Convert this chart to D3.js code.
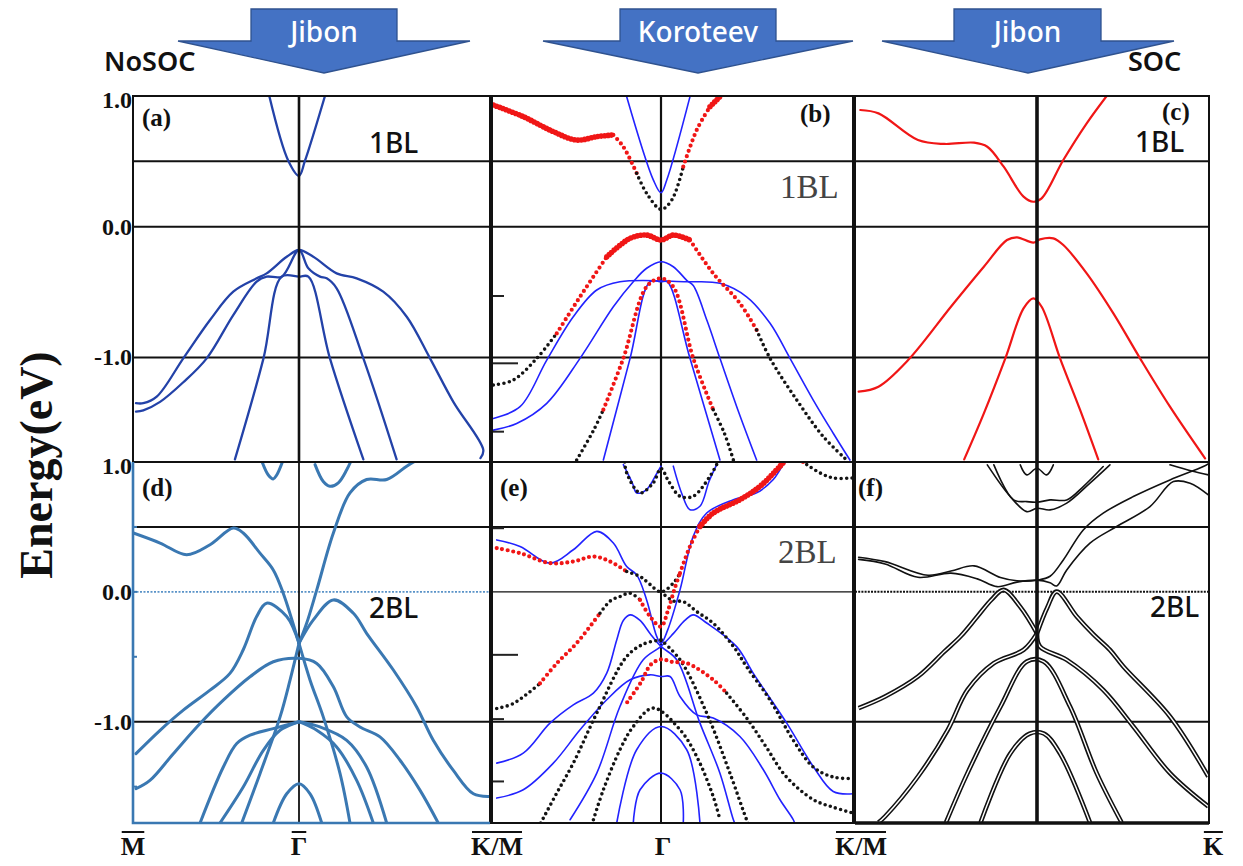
<!DOCTYPE html>
<html>
<head>
<meta charset="utf-8">
<script src="https://cdn.jsdelivr.net/npm/d3@7"></script>
<style>
  body { margin: 0; background: #fff; }
  svg { display: block; }
</style>
</head>
<body>
<svg id="chart" width="1243" height="866"></svg>
<script>
// ---------------------------------------------------------------
// Band structures along M - Gamma - K (k normalised: M = -1, Gamma = 0, K = +1)
// Energies in eV.  Dotted bands carry a third value: red character
// (0 = none / black, 1 = red, 2 = strong red).
// ---------------------------------------------------------------

const gridEnergies = [0.5, 0.0, -1.0];
const yTickValues = [1.0, 0.0, -1.0];
const yTickLabels = ["1.0", "0.0", "-1.0"];
const xTickLabels = ["M", "Γ", "K/M", "Γ", "K/M", "K"];
const xTickBarred = [true, true, true, false, true, true];
const panelLetters = ["(a)", "(b)", "(c)", "(d)", "(e)", "(f)"];
const layerLabels = ["1BL", "1BL", "1BL", "2BL", "2BL", "2BL"];
const sourceNames = ["Jibon", "Koroteev", "Jibon"];

// (a) monolayer, no SOC
const aCond = [[-0.179, 1.0], [-0.064, 0.503], [0, 0.39], [0.031, 0.503], [0.136, 1.0]];
const aValA = [[-0.982, -1.35], [-0.938, -1.35], [-0.857, -1.30], [-0.697, -1.007], [-0.536, -0.714],
  [-0.396, -0.497], [-0.255, -0.395], [-0.195, -0.357], [-0.074, -0.23], [0, -0.178], [0.075, -0.23],
  [0.197, -0.357], [0.302, -0.395], [0.441, -0.497], [0.564, -0.689], [0.686, -1.007], [0.808, -1.34],
  [0.965, -1.709], [0.95, -1.77]];
const aValB = [[-0.982, -1.415], [-0.938, -1.405], [-0.837, -1.34], [-0.697, -1.19], [-0.556, -1.007],
  [-0.396, -0.676], [-0.255, -0.42], [-0.195, -0.382], [-0.104, -0.382], [0, -0.178], [0.049, -0.318],
  [0.11, -0.382], [0.145, -0.395], [0.197, -0.471], [0.337, -1.007], [0.511, -1.78]];
const aInner = [[-0.386, -1.78], [-0.214, -1.007], [-0.104, -0.382], [0, -0.382], [0.049, -0.382],
  [0.162, -1.007], [0.337, -1.78]];

// (b) monolayer, Koroteev
const bBlueCond = [[-0.203, 0.995], [-0.045, 0.357], [0, 0.26], [0.03, 0.357], [0.151, 0.995]];
const bBlueFlat = [[-0.992, -1.467], [-0.834, -1.377], [-0.676, -1.02], [-0.519, -0.689], [-0.38, -0.484],
  [-0.243, -0.421], [0.134, -0.421], [0.307, -0.433], [0.446, -0.536], [0.568, -0.739], [0.672, -1.007],
  [0.793, -1.326], [0.897, -1.58], [0.984, -1.785]];
const bBluePeak = [[-0.992, -1.556], [-0.854, -1.505], [-0.676, -1.351], [-0.479, -1.007], [-0.282, -0.612],
  [-0.164, -0.421], [-0.085, -0.318], [0, -0.268], [0.064, -0.306], [0.134, -0.41], [0.168, -0.45],
  [0.24, -0.72], [0.307, -1.007], [0.4, -1.4], [0.498, -1.785]];
const bBlueInner = [[-0.341, -1.785], [-0.183, -1.007], [-0.065, -0.421], [0, -0.421], [0.033, -0.421],
  [0.151, -1.007], [0.307, -1.785]];
const bDotCond = [[-0.992, 0.931, 2], [-0.815, 0.842, 2], [-0.637, 0.727, 2], [-0.499, 0.663, 2],
  [-0.38, 0.689, 2], [-0.282, 0.702, 2], [-0.223, 0.612, 1], [-0.144, 0.409, 1], [-0.085, 0.256, 0],
  [0, 0.133, 0], [0.056, 0.204, 0], [0.116, 0.459, 1], [0.186, 0.74, 1], [0.255, 0.918, 2], [0.307, 0.995, 2]];
const bDotVal = [[-0.992, -1.211, 0], [-0.874, -1.173, 0], [-0.735, -1.007, 0], [-0.617, -0.816, 1],
  [-0.479, -0.536, 1], [-0.321, -0.23, 2], [-0.183, -0.089, 2], [-0.085, -0.064, 2], [0, -0.102, 2],
  [0.064, -0.064, 2], [0.151, -0.102, 2], [0.272, -0.357, 1], [0.411, -0.586, 1], [0.498, -0.79, 1],
  [0.568, -1.007, 0], [0.707, -1.326, 0], [0.846, -1.607, 0], [0.967, -1.785, 0]];
const bDotInner = [[-0.499, -1.785, 0], [-0.4, -1.56, 0], [-0.341, -1.40, 1], [-0.223, -1.007, 1],
  [-0.085, -0.459, 1], [0, -0.395, 1], [0.064, -0.459, 1], [0.168, -1.007, 1], [0.272, -1.40, 1],
  [0.33, -1.58, 0], [0.377, -1.785, 0]];
const bSideTicks = [-0.53, -1.045, -1.568];

// (c) monolayer, SOC
const cCond = [[-0.971, 0.893], [-0.871, 0.867], [-0.654, 0.663], [-0.509, 0.633], [-0.346, 0.643],
  [-0.273, 0.612], [-0.183, 0.459], [-0.074, 0.23], [-0.02, 0.191], [0.027, 0.217], [0.153, 0.51],
  [0.289, 0.791], [0.405, 1.0]];
const cValOuter = [[-0.98, -1.262], [-0.871, -1.224], [-0.708, -1.02], [-0.473, -0.612], [-0.292, -0.306],
  [-0.165, -0.102], [-0.11, -0.081], [-0.02, -0.122], [0.017, -0.097], [0.095, -0.089], [0.153, -0.14],
  [0.289, -0.357], [0.444, -0.663], [0.599, -1.007], [0.773, -1.377], [0.977, -1.772]];
const cValInner = [[-0.4, -1.78], [-0.292, -1.428], [-0.174, -1.007], [-0.074, -0.625], [-0.02, -0.548],
  [0.027, -0.612], [0.134, -1.007], [0.25, -1.40], [0.356, -1.78]];

// (d) bilayer, no SOC
const dCondU1 = [[-0.222, 1.0], [-0.185, 0.9], [-0.155, 0.87], [-0.134, 0.9], [-0.1, 1.0]];
const dCondU2 = [[0.084, 0.98], [0.127, 0.85], [0.162, 0.813], [0.206, 0.84], [0.25, 0.94], [0.27, 1.0]];
const dCondR = [[0, -0.397], [0.04, -0.242], [0.093, 0.015], [0.18, 0.453], [0.267, 0.762], [0.354, 0.865],
  [0.459, 0.865], [0.564, 0.968], [0.6, 1.0]];
const dCondL = [[-0.998, 0.453], [-0.837, 0.376], [-0.677, 0.286], [-0.536, 0.363], [-0.396, 0.491],
  [-0.336, 0.453], [-0.235, 0.298], [-0.155, 0.169], [-0.095, -0.01], [0, -0.397]];
const dValL1 = [[0, -0.397], [-0.074, -0.19], [-0.195, -0.087], [-0.255, -0.19], [-0.336, -0.446],
  [-0.416, -0.628], [-0.536, -0.757], [-0.697, -0.911], [-0.837, -1.066], [-0.982, -1.246]];
const dValR1 = [[0, -0.397], [0.075, -0.216], [0.18, -0.062], [0.285, -0.165], [0.354, -0.319],
  [0.494, -0.602], [0.616, -0.886], [0.703, -1.143], [0.808, -1.375], [0.913, -1.555], [1.0, -1.575]];
const dVal2 = [[-0.982, -1.516], [-0.898, -1.452], [-0.757, -1.246], [-0.596, -1.014], [-0.456, -0.834],
  [-0.295, -0.654], [-0.155, -0.538], [0, -0.512], [0.093, -0.551], [0.18, -0.731], [0.25, -0.963],
  [0.319, -1.04], [0.424, -1.117], [0.529, -1.297], [0.634, -1.529], [0.729, -1.78]];
const dSteepL = [[0, -0.397], [-0.054, -0.68], [-0.114, -0.963], [-0.235, -1.4], [-0.345, -1.78]];
const dSteepR = [[0, -0.397], [0.058, -0.68], [0.127, -0.963], [0.215, -1.4], [0.267, -1.78]];
const dLowL1 = [[0, -1.0], [-0.155, -1.053], [-0.295, -1.104], [-0.375, -1.168], [-0.456, -1.349], [-0.596, -1.78]];
const dLowL2 = [[0, -1.0], [-0.114, -1.066], [-0.215, -1.22], [-0.336, -1.503], [-0.476, -1.78]];
const dLowR1 = [[0, -1.0], [0.093, -1.066], [0.197, -1.194], [0.302, -1.452], [0.389, -1.78]];
const dLowR2 = [[0, -1.0], [0.11, -1.04], [0.25, -1.143], [0.354, -1.349], [0.459, -1.78]];
const dCap = [[-0.155, -1.78], [-0.074, -1.555], [0, -1.477], [0.058, -1.555], [0.119, -1.78]];
const dSideTicks = [1.0, 0.5, 0.0, -0.5, -1.5];

// (e) bilayer, Koroteev
const eBlueCond = [[-0.972, 0.4], [-0.834, 0.35], [-0.657, 0.221], [-0.519, 0.324], [-0.38, 0.466],
  [-0.282, 0.376], [-0.203, 0.195], [-0.144, 0.131], [-0.085, -0.062], [-0.025, -0.345], [0, -0.397],
  [0.035, -0.293], [0.099, 0.015], [0.168, 0.427], [0.238, 0.607], [0.377, 0.71], [0.498, 0.762],
  [0.585, 0.865], [0.637, 0.98], [0.65, 1.0]];
const eBlueU1 = [[-0.223, 0.98], [-0.17, 0.84], [-0.144, 0.762], [-0.085, 0.788], [-0.03, 0.9], [0, 0.968]];
const eBlueU2 = [[0.064, 0.968], [0.11, 0.75], [0.151, 0.633], [0.203, 0.659], [0.25, 0.85], [0.29, 0.98]];
const eBluePeakL = [[-0.972, -1.319], [-0.815, -1.242], [-0.657, -1.011], [-0.519, -0.87], [-0.4, -0.78],
  [-0.321, -0.626], [-0.262, -0.37], [-0.223, -0.22], [-0.183, -0.177], [-0.124, -0.22], [-0.065, -0.32],
  [0, -0.42], [0.082, -0.523], [0.203, -1.011], [0.307, -1.396], [0.377, -1.755], [0.39, -1.8]];
const eBluePeakR = [[-0.538, -1.755], [-0.38, -1.396], [-0.243, -0.883], [-0.105, -0.523], [0, -0.42],
  [0.065, -0.32], [0.124, -0.22], [0.168, -0.177], [0.238, -0.24], [0.394, -0.422], [0.48, -0.626],
  [0.655, -1.011], [0.793, -1.345], [0.897, -1.537], [1.0, -1.555]];
const eBlueLow = [[-0.972, -1.588], [-0.815, -1.524], [-0.637, -1.319], [-0.479, -1.062], [-0.321, -0.831],
  [-0.183, -0.677], [-0.065, -0.639], [0, -0.652], [0.047, -0.652], [0.099, -0.806], [0.186, -0.947],
  [0.272, -0.972], [0.411, -1.114], [0.533, -1.37], [0.62, -1.601], [0.689, -1.755], [0.7, -1.8]];
const eBlueArc = [[-0.262, -1.78], [-0.144, -1.216], [0, -1.037], [0.134, -1.216], [0.203, -1.78]];
const eBlueCap = [[-0.164, -1.78], [-0.124, -1.524], [0, -1.396], [0.099, -1.524], [0.116, -1.78]];
const eDotCond = [[-0.972, 0.337, 1], [-0.834, 0.298, 1], [-0.657, 0.221, 1], [-0.519, 0.234, 1],
  [-0.4, 0.272, 1], [-0.302, 0.234, 1], [-0.203, 0.157, 1], [-0.124, 0.118, 0], [-0.085, 0.08, 0],
  [0, 0.0, 0], [0.064, 0.067, 0], [0.099, 0.144, 1], [0.151, 0.35, 1], [0.203, 0.504, 2],
  [0.272, 0.607, 2], [0.411, 0.71, 2], [0.516, 0.813, 2], [0.62, 0.968, 2], [0.64, 1.0, 2]];
const eDotTop = [[-0.215, 1.0, 0], [-0.203, 0.916, 0], [-0.124, 0.762, 0], [-0.046, 0.839, 0], [0, 0.95, 0],
  [0.04, 0.85, 0], [0.099, 0.736, 0], [0.168, 0.736, 0], [0.255, 0.89, 0], [0.29, 0.98, 0]];
const eDotTopR = [[0.74, 1.0, 1], [0.759, 0.98, 1], [0.828, 0.916, 0], [0.898, 0.877, 0], [1.0, 0.877, 0]];
const eDotE1 = [[-0.972, -0.898, 0], [-0.874, -0.86, 0], [-0.716, -0.705, 1], [-0.617, -0.551, 1],
  [-0.499, -0.395, 1], [-0.361, -0.165, 1], [-0.3, -0.07, 0], [-0.243, -0.036, 0], [-0.183, -0.01, 0],
  [-0.124, -0.062, 1], [-0.065, -0.19, 1], [0, -0.268, 1], [0.035, -0.15, 1], [0.07, 0.02, 1], [0.099, 0.144, 1]];
const eDotR = [[0, 0.0, 0], [0.064, -0.07, 0], [0.116, -0.075, 0], [0.186, -0.152, 0], [0.272, -0.242, 0],
  [0.377, -0.42, 0], [0.446, -0.577, 0], [0.568, -0.834, 0], [0.689, -1.143, 0], [0.793, -1.349, 0],
  [0.897, -1.426, 0], [1.0, -1.438, 0]];
const eDotOutL = [[0, -0.37, 0], [-0.1, -0.4, 0], [-0.203, -0.498, 0], [-0.38, -0.934, 0], [-0.519, -1.319, 0],
  [-0.617, -1.55, 0], [-0.696, -1.742, 0], [-0.72, -1.8, 0]];
const eDotOutR = [[0, -0.37, 0], [0.099, -0.523, 0], [0.238, -0.934, 0], [0.359, -1.396, 0], [0.446, -1.755, 0],
  [0.46, -1.8, 0]];
const eDotInner = [[-0.4, -1.755, 0], [-0.341, -1.524, 0], [-0.243, -1.216, 0], [-0.164, -1.037, 0],
  [-0.046, -0.895, 0], [0.099, -1.062, 0], [0.186, -1.268, 0], [0.272, -1.576, 0], [0.307, -1.755, 0]];
const eDotCap = [[-0.2, -0.85, 1], [-0.12, -0.7, 1], [-0.06, -0.56, 1], [0, -0.52, 2], [0.06, -0.54, 1],
  [0.134, -0.549, 1], [0.272, -0.677, 1], [0.342, -0.78, 1], [0.45, -0.98, 0], [0.55, -1.2, 0],
  [0.65, -1.42, 0], [0.793, -1.6, 0], [0.9, -1.66, 0], [1.0, -1.704, 0]];
const eSideTicks = [0.49, -0.485, -0.98, -1.46];

// (f) bilayer, SOC (spin-split pairs)
const fC1 = [[-0.98, 0.267], [-0.835, 0.233], [-0.599, 0.128], [-0.473, 0.16], [-0.346, 0.2], [-0.201, 0.11],
  [-0.11, 0.085], [0, 0.09], [0.076, 0.12], [0.153, 0.246], [0.269, 0.477], [0.385, 0.606], [0.56, 0.734],
  [0.773, 0.862], [0.967, 0.965], [1.0, 0.99]];
const fC2 = [[-0.98, 0.25], [-0.835, 0.215], [-0.654, 0.112], [-0.473, 0.144], [-0.328, 0.1], [-0.219, 0.04],
  [-0.11, 0.075], [0, 0.09], [0.076, 0.07], [0.114, 0.045], [0.173, 0.169], [0.308, 0.375], [0.463, 0.503],
  [0.657, 0.657], [0.793, 0.849], [0.89, 0.836], [0.996, 0.746]];
const fU1 = [[-0.273, 0.978], [-0.147, 0.734], [-0.056, 0.618], [0, 0.644], [0.076, 0.631], [0.173, 0.683],
  [0.308, 0.837], [0.424, 0.978]];
const fU2 = [[-0.237, 0.978], [-0.129, 0.708], [-0.056, 0.695], [0, 0.69], [0.076, 0.708], [0.173, 0.708],
  [0.269, 0.811], [0.385, 0.965]];
const fW = [[-0.092, 0.978], [-0.056, 0.901], [0, 0.952], [0.056, 0.901], [0.095, 0.978]];
const fTopR = [[0.773, 0.978], [0.9, 0.93], [0.996, 0.901]];
const fV1 = [[0, -0.32], [-0.09, -0.12], [-0.183, 0.015], [-0.25, -0.06], [-0.328, -0.19], [-0.418, -0.34],
  [-0.509, -0.46], [-0.654, -0.652], [-0.835, -0.806], [-0.98, -0.895]];
const fV2 = [[0, -0.32], [0.06, -0.12], [0.114, 0.002], [0.231, -0.19], [0.33, -0.33], [0.424, -0.447],
  [0.502, -0.575], [0.773, -0.96], [0.996, -1.422]];
const fR2 = [[0, -0.32], [0.017, -0.421], [0.173, -0.524], [0.385, -0.755], [0.56, -1.037], [0.773, -1.396],
  [0.996, -1.653]];
const fL2 = [[0, -0.32], [-0.074, -0.447], [-0.237, -0.549], [-0.382, -0.755], [-0.49, -1.062], [-0.654, -1.422],
  [-0.835, -1.73], [-0.871, -1.776]];
const fCap1 = [[-0.5, -1.776], [-0.382, -1.396], [-0.2, -0.883], [-0.056, -0.537], [0.039, -0.537],
  [0.192, -0.883], [0.347, -1.396], [0.492, -1.776]];
const fCap2 = [[-0.31, -1.776], [-0.147, -1.245], [-0.04, -1.091], [0.04, -1.091], [0.134, -1.245],
  [0.308, -1.776]];

// ---------------------------------------------------------------
// Layout
// ---------------------------------------------------------------
const COLS = [{ l: 133, g: 299, r: 490 }, { l: 492, g: 661, r: 853 }, { l: 855, g: 1037, r: 1209 }];
const ROWS = [{ t: 96, b: 462, lo: -1.8 }, { t: 462, b: 823, lo: -1.78 }];

const NAVY = "#2342a8", STEEL = "#3a78b2", BLUE = "#2222ff", RED = "#f01616", DOTBLACK = "#141414";
const SERIF = "'Liberation Serif', 'Times New Roman', serif";
const SANS = "'Noto Sans', 'Open Sans', sans-serif";

const svg = d3.select("#chart");

function scalesFor(col, row) {
  const c = COLS[col], r = ROWS[row];
  return {
    c, r,
    x: d3.scaleLinear().domain([-1, 0, 1]).range([c.l, c.g, c.r]),
    y: d3.scaleLinear().domain([r.lo, 1]).range([r.b, r.t])
  };
}

function lineGen(s, curve) {
  return d3.line().x(d => s.x(d[0])).y(d => s.y(d[1])).curve(curve || d3.curveCatmullRom.alpha(0.5));
}

// split a weighted dotted band into runs of constant colour
function runs(pts) {
  const out = [];
  let cur = null;
  for (let i = 0; i < pts.length - 1; i++) {
    const w = Math.min(pts[i][2], pts[i + 1][2]);
    if (!cur || cur.w !== w) { cur = { w, pts: [pts[i]] }; out.push(cur); }
    cur.pts.push(pts[i + 1]);
  }
  return out;
}

const dotStyle = {
  0: { color: DOTBLACK, width: 3.6, dash: "0 5.4" },
  1: { color: RED, width: 4.2, dash: "0 5.6" },
  2: { color: RED, width: 5.6, dash: "0 3.4" }
};

function drawPanel(spec) {
  const s = scalesFor(spec.col, spec.row);
  const { c, r } = s;
  const g = svg.append("g");
  const clipId = "clip-" + spec.id;
  svg.append("clipPath").attr("id", clipId)
    .append("rect").attr("x", c.l).attr("y", r.t).attr("width", c.r - c.l).attr("height", r.b - r.t);

  // horizontal reference lines
  gridEnergies.forEach(E => {
    const yy = s.y(E);
    const zero = E === 0;
    const ln = g.append("line").attr("x1", c.l).attr("x2", c.r).attr("y1", yy).attr("y2", yy);
    if (zero && spec.zeroStyle === "dotblue") {
      ln.attr("stroke", "#5a93c8").attr("stroke-width", 1.6).attr("stroke-dasharray", "2 1.5");
    } else if (zero && spec.zeroStyle === "dotblack") {
      ln.attr("stroke", "#111").attr("stroke-width", 2).attr("stroke-dasharray", "2 1.2");
    } else if (zero && spec.zeroStyle === "thin") {
      ln.attr("stroke", "#111").attr("stroke-width", 1.4);
    } else {
      ln.attr("stroke", "#111").attr("stroke-width", 2);
    }
  });

  const body = g.append("g").attr("clip-path", `url(#${clipId})`);

  // gamma line (drawn under bands for the Koroteev panels)
  const gammaLine = () => body.append("line")
    .attr("x1", s.x(0)).attr("x2", s.x(0)).attr("y1", r.t).attr("y2", r.b)
    .attr("stroke", "#111").attr("stroke-width", spec.gammaWidth);
  if (!spec.gammaOnTop) gammaLine();

  (spec.solid || []).forEach(b => {
    body.append("path").attr("d", lineGen(s)(b))
      .attr("fill", "none").attr("stroke", spec.color).attr("stroke-width", spec.width)
      .attr("stroke-linejoin", "round").attr("stroke-linecap", "round");
  });

  (spec.pairs || []).forEach(b => {
    const d = lineGen(s)(b);
    body.append("path").attr("d", d).attr("fill", "none").attr("stroke", "#111").attr("stroke-width", 4.6);
    body.append("path").attr("d", d).attr("fill", "none").attr("stroke", "#fff").attr("stroke-width", 1.4);
  });

  (spec.dotted || []).forEach(b => {
    runs(b).forEach(run => {
      const st = dotStyle[run.w];
      body.append("path").attr("d", lineGen(s)(run.pts))
        .attr("fill", "none").attr("stroke", st.color).attr("stroke-width", st.width)
        .attr("stroke-linecap", "round").attr("stroke-dasharray", st.dash);
    });
  });

  if (spec.gammaOnTop) gammaLine();

  // stray axis ticks on the left edge
  (spec.sideTicks || []).forEach((E, i) => {
    const len = spec.sideTickLen ? spec.sideTickLen[i] : 10;
    g.append("line").attr("x1", c.l).attr("x2", c.l + len).attr("y1", s.y(E)).attr("y2", s.y(E))
      .attr("stroke", spec.sideTickColor || "#222").attr("stroke-width", 2);
  });

  // frame
  g.append("rect").attr("x", c.l).attr("y", r.t).attr("width", c.r - c.l).attr("height", r.b - r.t)
    .attr("fill", "none").attr("stroke", "#111").attr("stroke-width", 2);
  if (spec.frameAccent) {
    g.append("path")
      .attr("d", `M${c.l},${r.t}V${r.b}H${c.r}`)
      .attr("fill", "none").attr("stroke", spec.frameAccent).attr("stroke-width", 2.6);
  }
  if (spec.bottomHeavy) {
    g.append("line").attr("x1", c.l).attr("x2", c.r).attr("y1", r.b).attr("y2", r.b)
      .attr("stroke", "#111").attr("stroke-width", 3.5);
  }

  // panel letter
  g.append("text").attr("x", spec.letterX).attr("y", spec.letterY)
    .attr("font-family", SERIF).attr("font-weight", "bold").attr("font-size", 25)
    .attr("fill", "#111").text(panelLetters[spec.idx]);

  // layer label
  g.append("text").attr("x", spec.layerX).attr("y", spec.layerY)
    .attr("font-family", spec.layerSerif ? SERIF : SANS)
    .attr("font-size", spec.layerSerif ? 33 : 28)
    .attr("font-weight", spec.layerSerif ? "normal" : 500)
    .attr("fill", spec.layerSerif ? "#444" : "#111")
    .text(layerLabels[spec.idx]);
  return s;
}

const panels = [
  { id: "a", idx: 0, col: 0, row: 0, color: NAVY, width: 2.3, gammaWidth: 2.6, gammaOnTop: true,
    solid: [aCond, aValA, aValB, aInner], letterX: 142, letterY: 126, layerX: 369, layerY: 153 },
  { id: "b", idx: 1, col: 1, row: 0, color: BLUE, width: 1.6, gammaWidth: 2.2,
    solid: [bBlueCond, bBlueFlat, bBluePeak, bBlueInner], dotted: [bDotCond, bDotVal, bDotInner],
    sideTicks: bSideTicks, sideTickLen: [12, 26, 12],
    letterX: 800, letterY: 122, layerX: 780, layerY: 198, layerSerif: true },
  { id: "c", idx: 2, col: 2, row: 0, color: RED, width: 2.2, gammaWidth: 3.6, gammaOnTop: true,
    solid: [cCond, cValOuter, cValInner], letterX: 1162, letterY: 120, layerX: 1135, layerY: 152 },
  { id: "d", idx: 3, col: 0, row: 1, color: STEEL, width: 3, gammaWidth: 1.8, zeroStyle: "dotblue",
    solid: [dCondU1, dCondU2, dCondR, dCondL, dValL1, dValR1, dVal2, dSteepL, dSteepR, dLowL1, dLowL2,
      dLowR1, dLowR2, dCap],
    sideTicks: dSideTicks, sideTickColor: STEEL, sideTickLen: [4, 4, 4, 4, 4], frameAccent: STEEL,
    letterX: 142, letterY: 496, layerX: 369, layerY: 618 },
  { id: "e", idx: 4, col: 1, row: 1, color: BLUE, width: 1.6, gammaWidth: 2, zeroStyle: "thin",
    solid: [eBlueCond, eBlueU1, eBlueU2, eBluePeakL, eBluePeakR, eBlueLow, eBlueArc, eBlueCap],
    dotted: [eDotCond, eDotTop, eDotTopR, eDotE1, eDotR, eDotOutL, eDotOutR, eDotInner, eDotCap],
    sideTicks: eSideTicks, sideTickLen: [12, 26, 12, 12],
    letterX: 500, letterY: 496, layerX: 778, layerY: 563, layerSerif: true },
  { id: "f", idx: 5, col: 2, row: 1, color: "#111", width: 1.6, gammaWidth: 3.6, gammaOnTop: true,
    zeroStyle: "dotblack", bottomHeavy: true,
    solid: [fC1, fC2, fU1, fU2, fW, fTopR], pairs: [fV1, fV2, fR2, fL2, fCap1, fCap2],
    letterX: 858, letterY: 496, layerX: 1150, layerY: 617 }
];

const scaleSets = panels.map(drawPanel);

// y tick labels on the left of both rows
[0, 1].forEach(row => {
  const s = scaleSets[row * 3];
  yTickValues.forEach((E, i) => {
    svg.append("text")
      .attr("x", 132).attr("y", s.y(E) + (E === 1 ? 12 : 8))
      .attr("text-anchor", "end")
      .attr("font-family", SERIF).attr("font-weight", "bold").attr("font-size", 24)
      .attr("fill", "#111").text(yTickLabels[i]);
  });
});

// x tick labels with overbars
const xTickPos = [
  scaleSets[3].x(-1), scaleSets[3].x(0), scaleSets[3].x(1) + 7,
  scaleSets[4].x(0) + 2, scaleSets[4].x(1) + 8, scaleSets[5].x(1) + 4
];
xTickLabels.forEach((t, i) => {
  const txt = svg.append("text")
    .attr("x", xTickPos[i]).attr("y", 855)
    .attr("text-anchor", "middle")
    .attr("font-family", SERIF).attr("font-weight", "bold").attr("font-size", 26)
    .attr("fill", "#111").text(t);
  if (xTickBarred[i]) {
    const bb = txt.node().getBBox();
    svg.append("line").attr("x1", bb.x + 1).attr("x2", bb.x + bb.width - 1)
      .attr("y1", 832).attr("y2", 832).attr("stroke", "#111").attr("stroke-width", 2);
  }
});

// axis title
svg.append("text")
  .attr("transform", "translate(52,465) rotate(-90)")
  .attr("text-anchor", "middle")
  .attr("font-family", SERIF).attr("font-weight", "bold").attr("font-size", 46)
  .attr("fill", "#111").text("Energy(eV)");

// source arrows above each column
const arrowCentres = [324, 698, 1028];
const arrowBody = [[251, 397], [620, 776], [954, 1101]];
const arrowHead = [[178, 470], [543, 853], [882, 1174]];
sourceNames.forEach((name, i) => {
  const [bl, br] = arrowBody[i], [hl, hr] = arrowHead[i], cx = arrowCentres[i];
  const pts = [[bl, 9], [br, 9], [br, 41], [hr, 41], [cx, 73], [hl, 41], [bl, 41]];
  svg.append("polygon").attr("points", pts.map(p => p.join(",")).join(" "))
    .attr("fill", "#4472c4").attr("stroke", "#2f528f").attr("stroke-width", 1.3);
  svg.append("text").attr("x", (bl + br) / 2).attr("y", 42)
    .attr("text-anchor", "middle").attr("font-family", SANS).attr("font-size", 28).attr("font-weight", 500)
    .attr("fill", "#fff").text(name);
});

// calculation labels
svg.append("text").attr("x", 104).attr("y", 71).attr("font-family", SANS).attr("font-size", 27)
  .attr("font-weight", 600).attr("fill", "#111").text("NoSOC");
svg.append("text").attr("x", 1128).attr("y", 71).attr("font-family", SANS).attr("font-size", 27)
  .attr("font-weight", 600).attr("fill", "#111").text("SOC");
</script>
</body>
</html>
